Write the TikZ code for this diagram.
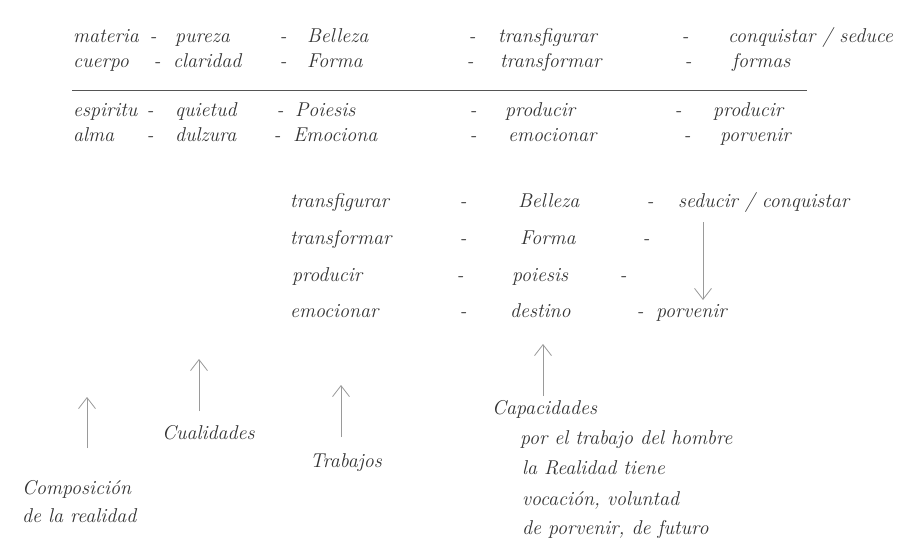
\documentclass[tikz,border=0pt]{standalone}
\usetikzlibrary{arrows.meta}
\definecolor{txt}{HTML}{333333}
\definecolor{arr}{HTML}{9A9A9A}
\definecolor{rule}{HTML}{555555}
\begin{document}
\begin{tikzpicture}[x=1pt,y=-1pt,
  tx/.style={anchor=mid west, inner sep=0pt, text=txt, font=\fontsize{20}{24}\selectfont\itshape},
  dsh/.style={anchor=mid, inner sep=0pt, text=txt, font=\fontsize{20}{24}\selectfont\itshape},
  uparr/.style={draw=arr, line width=0.8pt, -{Straight Barb[length=11pt,width=17pt,line width=0.8pt]}}]
\fill[white] (0,0) rectangle (919,557);
\useasboundingbox (0,0) rectangle (919,557);
% top block row 1
\node[tx] (r1a) at (73,40) {materia};
\node[dsh] (r1d1) at (153,40) {-};
\node[tx] (r1b) at (175,40) {pureza};
\node[dsh] (r1d2) at (283,40) {-};
\node[tx] (r1c) at (307,40) {Belleza};
\node[dsh] (r1d3) at (472,40) {-};
\node[tx] (r1e) at (498,40) {transfigurar};
\node[dsh] (r1d4) at (685,40) {-};
\node[tx] (r1f) at (728,40) {conquistar / seduce};
% row 2
\node[tx] (r2a) at (73,65) {cuerpo};
\node[dsh] (r2d1) at (157,65) {-};
\node[tx] (r2b) at (173,65) {claridad};
\node[dsh] (r2d2) at (283,65) {-};
\node[tx] (r2c) at (307,65) {Forma};
\node[dsh] (r2d3) at (470,65) {-};
\node[tx] (r2e) at (500,65) {transformar};
\node[dsh] (r2d4) at (688,65) {-};
\node[tx] (r2f) at (732,65) {formas};
% rule
\coordinate (ruleL) at (72,90);
\coordinate (ruleR) at (807,90);
\draw[rule, line width=0.9pt] (ruleL) -- (ruleR);
% row 3
\node[tx] (r3a) at (73,114) {espiritu};
\node[dsh] (r3d1) at (150,114) {-};
\node[tx] (r3b) at (175,114) {quietud};
\node[dsh] (r3d2) at (280,114) {-};
\node[tx] (r3c) at (295,114) {Poiesis};
\node[dsh] (r3d3) at (473,114) {-};
\node[tx] (r3e) at (505,114) {producir};
\node[dsh] (r3d4) at (678,114) {-};
\node[tx] (r3f) at (713,114) {producir};
% row 4
\node[tx] (r4a) at (73,139) {alma};
\node[dsh] (r4d1) at (150,139) {-};
\node[tx] (r4b) at (175,139) {dulzura};
\node[dsh] (r4d2) at (277,139) {-};
\node[tx] (r4c) at (293,139) {Emociona};
\node[dsh] (r4d3) at (473,139) {-};
\node[tx] (r4e) at (508,139) {emocionar};
\node[dsh] (r4d4) at (687,139) {-};
\node[tx] (r4f) at (720,139) {porvenir};
% middle block
\node[tx] (mAa) at (290,205) {transfigurar};
\node[dsh] (mAd1) at (463,205) {-};
\node[tx] (mAb) at (518,205) {Belleza};
\node[dsh] (mAd2) at (650,205) {-};
\node[tx] (mAc) at (678,205) {seducir / conquistar};
\node[tx] (mBa) at (290,242) {transformar};
\node[dsh] (mBd1) at (463,242) {-};
\node[tx] (mBb) at (520,242) {Forma};
\node[dsh] (mBd2) at (646,242) {-};
\node[tx] (mCa) at (292,279) {producir};
\node[dsh] (mCd1) at (460,279) {-};
\node[tx] (mCb) at (512,279) {poiesis};
\node[dsh] (mCd2) at (623,279) {-};
\node[tx] (mDa) at (290,315) {emocionar};
\node[dsh] (mDd1) at (463,315) {-};
\node[tx] (mDb) at (510,315) {destino};
\node[dsh] (mDd2) at (640,315) {-};
\node[tx] (mDc) at (656,315) {porvenir};
\coordinate (dnS) at (703,222);
\coordinate (dnE) at (703,300);
\draw[uparr] (dnS) -- (dnE);
% bottom labels
\node[tx] (comp1) at (22,492) {Composición};
\node[tx] (comp2) at (22,520) {de la realidad};
\node[tx] (cual) at (162,437) {Cualidades};
\node[tx] (trab) at (310,465) {Trabajos};
\node[tx] (cap1) at (492,412) {Capacidades};
\node[tx] (cap2) at (520,442) {por el trabajo del hombre};
\node[tx] (cap3) at (522,472) {la Realidad tiene};
\node[tx] (cap4) at (522,503) {vocación, voluntad};
\node[tx] (cap5) at (522,532) {de porvenir, de futuro};
% up arrows
\coordinate (uaS) at (87,448); \coordinate (uaE) at (87,397);
\coordinate (ubS) at (199,411); \coordinate (ubE) at (199,359);
\coordinate (ucS) at (341,437); \coordinate (ucE) at (341,385);
\coordinate (udS) at (543,396); \coordinate (udE) at (543,344);
\draw[uparr] (uaS) -- (uaE);
\draw[uparr] (ubS) -- (ubE);
\draw[uparr] (ucS) -- (ucE);
\draw[uparr] (udS) -- (udE);
\end{tikzpicture}
\end{document}
